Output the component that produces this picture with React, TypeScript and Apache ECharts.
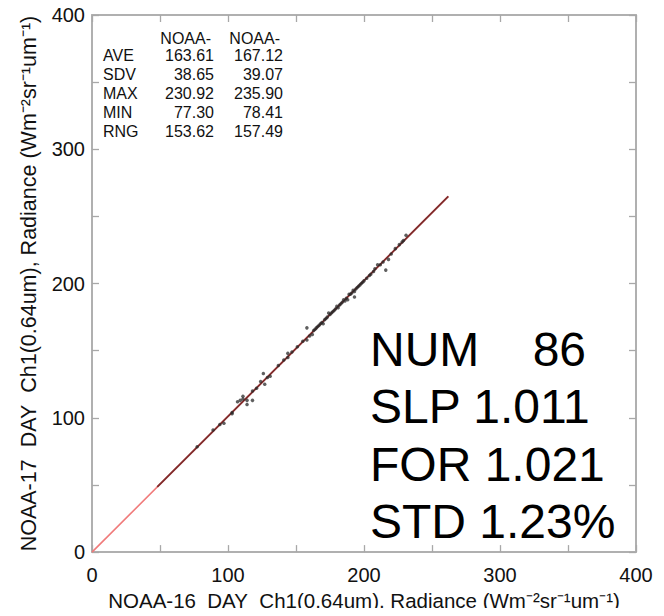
import React, { useEffect, useRef } from "react";
import * as echarts from "echarts";

const xTicks = [0, 100, 200, 300, 400];
const statHeaders = ["NOAA-", "NOAA-"];
const statLabels = ["AVE", "SDV", "MAX", "MIN", "RNG"];
const statCol1 = ["163.61", "38.65", "230.92", "77.30", "153.62"];
const statCol2 = ["167.12", "39.07", "235.90", "78.41", "157.49"];
const bigStats = ["NUM\u00a0\u00a0\u00a0\u00a086", "SLP 1.011", "FOR 1.021", "STD 1.23%"];

const noaa16 = [
  77.3, 89, 94, 97, 103, 103, 107, 109, 111, 111, 114, 114, 118, 118, 121,
  124, 126, 127, 129, 131, 137, 141, 144, 144, 147, 151,
  155, 158, 158, 160, 162, 163, 164, 165, 166, 167, 168, 169, 170, 171, 172, 173, 174, 175, 176, 177, 178, 179,
  180, 181, 182, 183, 184, 185, 186, 187, 188, 189, 190, 191, 192, 193, 193, 194, 195, 196, 197, 198, 199, 200,
  202, 204, 205, 207, 208, 210, 212, 214, 216, 218, 220, 223, 226, 228, 229, 230.92,
];
const noaa17 = [
  78.41, 91, 95, 96, 104, 103, 112, 113, 116, 114, 110, 113, 113, 120, 122,
  127, 133, 125, 130, 131, 139, 143, 148, 145, 149, 153,
  157, 158, 167, 161, 162, 165, 166, 167, 168, 169, 170, 171, 170, 173, 174, 175, 178, 177, 178, 179, 180, 181,
  183, 182, 184, 185, 186, 188, 187, 189, 188, 192, 192, 193, 195, 194, 190, 196, 197, 198, 199, 200, 201, 202,
  204, 206, 207, 209, 211, 214, 214, 216, 210, 218, 222, 226, 229, 231, 232, 235.9,
];
const fitLine = [[0, 0], [262, 264.9]];
const fitLineDark = [[48, 48.5], [262, 264.9]];

const FONT = "'Liberation Sans', Arial, Helvetica, sans-serif";

export default function App() {
  const ref = useRef<HTMLDivElement>(null);
  useEffect(() => {
    if (!ref.current) return;
    const chart = echarts.init(ref.current, undefined, { renderer: "svg" });
    const axisCommon = {
      type: "value",
      min: 0,
      max: 400,
      interval: 50,
      splitLine: { show: false },
      axisLine: { show: true, onZero: false, lineStyle: { color: "#b0b0b0", width: 2 } },
      axisTick: { show: true, inside: true, length: 7, lineStyle: { color: "#a8a8a8", width: 1.3 } },
    };
    const labelFmt = (v: number) => (xTicks.includes(v) ? String(v) : "");
    const points = noaa16.map((x, i) => [x, noaa17[i]]);

    const graphics: any[] = [
      { type: "rect", left: 0, top: 0, shape: { width: 3, height: 130 }, style: { fill: "#2f2fc8" }, silent: true, z: 100 },
      { type: "rect", left: 0, top: 130, shape: { width: 3, height: 232 }, style: { fill: "#d8dbc0" }, silent: true, z: 100 },
      { type: "rect", left: 0, top: 362, shape: { width: 3, height: 254 }, style: { fill: "#2a2ab8" }, silent: true, z: 100 },
      { type: "rect", left: 0, top: 426, shape: { width: 3, height: 5 }, style: { fill: "#e8d020" }, silent: true, z: 101 },
    ];
    statHeaders.forEach((h, j) => {
      graphics.push({
        type: "text", x: j === 0 ? 211 : 280, y: 38,
        style: { text: h, fill: "#111", font: `16px ${FONT}`, textAlign: "right", textVerticalAlign: "middle" },
      });
    });
    statLabels.forEach((lab, i) => {
      const y = 55 + i * 19;
      graphics.push({ type: "text", x: 103, y, style: { text: lab, fill: "#111", font: `16px ${FONT}`, textAlign: "left", textVerticalAlign: "middle" } });
      graphics.push({ type: "text", x: 214, y, style: { text: statCol1[i], fill: "#111", font: `16px ${FONT}`, textAlign: "right", textVerticalAlign: "middle" } });
      graphics.push({ type: "text", x: 283, y, style: { text: statCol2[i], fill: "#111", font: `16px ${FONT}`, textAlign: "right", textVerticalAlign: "middle" } });
    });
    bigStats.forEach((s, i) => {
      graphics.push({
        type: "text", x: 370, y: 349 + i * 57.5,
        style: { text: s, fill: "#000", font: `48px ${FONT}`, textAlign: "left", textVerticalAlign: "middle" },
      });
    });

    chart.setOption({
      animation: false,
      backgroundColor: "#ffffff",
      textStyle: { fontFamily: FONT },
      grid: { left: 92, top: 15, width: 544, height: 543, containLabel: false },
      xAxis: [
        {
          ...axisCommon,
          position: "bottom",
          name: "NOAA-16\u00a0\u00a0DAY\u00a0\u00a0Ch1(0.64um), Radiance (Wm\u207b\u00b2sr\u207b\u00b9um\u207b\u00b9)",
          nameLocation: "middle",
          nameGap: 36,
          nameTextStyle: { color: "#111", fontSize: 20.5, fontFamily: FONT },
          axisLabel: { show: true, formatter: labelFmt, color: "#111", fontSize: 20, margin: 13, fontFamily: FONT, showMinLabel: true, showMaxLabel: true },
        },
        { ...axisCommon, position: "top", axisLabel: { show: false } },
      ],
      yAxis: [
        {
          ...axisCommon,
          position: "left",
          name: "NOAA-17\u00a0\u00a0DAY\u00a0\u00a0Ch1(0.64um), Radiance (Wm\u207b\u00b2sr\u207b\u00b9um\u207b\u00b9)",
          nameLocation: "middle",
          nameGap: 52,
          nameTextStyle: { color: "#111", fontSize: 21.5, fontFamily: FONT },
          axisLabel: { show: true, formatter: labelFmt, color: "#111", fontSize: 20, margin: 7, fontFamily: FONT, showMinLabel: true, showMaxLabel: true },
        },
        { ...axisCommon, position: "right", axisLabel: { show: false } },
      ],
      series: [
        {
          type: "line", xAxisIndex: 0, yAxisIndex: 0, data: fitLine, symbol: "none",
          lineStyle: { color: "#f07a7a", width: 1.6 }, z: 2,
        },
        {
          type: "line", xAxisIndex: 0, yAxisIndex: 0, data: fitLineDark, symbol: "none",
          lineStyle: { color: "#7e2c2c", width: 1.8 }, z: 3,
        },
        {
          type: "scatter", xAxisIndex: 0, yAxisIndex: 0, data: points, symbol: "circle", symbolSize: 3.5,
          itemStyle: { color: "#2a2a2a", opacity: 0.75 }, z: 4,
        },
      ],
      graphic: graphics,
    });
    return () => chart.dispose();
  }, []);
  return <div ref={ref} style={{ width: 664, height: 616, margin: -8 }} />;
}
